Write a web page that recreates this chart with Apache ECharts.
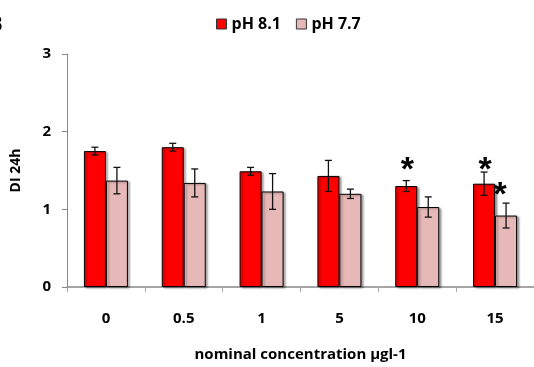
<!DOCTYPE html>
<html>
<head>
<meta charset="utf-8">
<script src="https://cdn.jsdelivr.net/npm/echarts@6/dist/echarts.min.js"></script>
<style>
  html, body { margin: 0; padding: 0; background: #fff; }
  #chart { width: 534px; height: 367px; }
</style>
</head>
<body>
<div id="chart"></div>
<script>
// Concentrations (µg l-1) on the x axis
const categories = ['0', '0.5', '1', '5', '10', '15'];
const seriesNames = ['pH 8.1', 'pH 7.7'];

// Mean DI after 24 h and its error (±)
const ph81 = [1.75, 1.80, 1.49, 1.43, 1.30, 1.33];
const ph81Err = [0.05, 0.05, 0.05, 0.20, 0.07, 0.15];
const ph77 = [1.37, 1.34, 1.23, 1.20, 1.03, 0.92];
const ph77Err = [0.17, 0.18, 0.23, 0.06, 0.13, 0.16];

// Significance markers: category index, series index, height of the marker
const starCategory = [4, 5, 5];
const starSeriesIdx = [0, 0, 1];
const starLevel = [1.63, 1.63, 1.31];

const yTicks = [0, 1, 2, 3];

const font = '"Open Sans", Lato, sans-serif';
const colors = ['#ff0000', '#e6b8b7'];

const chart = echarts.init(document.getElementById('chart'));

const BAR_W = 22;

function errorSeries(values, errs, seriesIdx) {
  return {
    type: 'custom',
    name: seriesNames[seriesIdx] + ' err',
    z: 5,
    silent: true,
    data: values.map((v, i) => [i, v - errs[i], v + errs[i]]),
    renderItem: function (params, api) {
      const i = api.value(0);
      const lo = api.coord([i, api.value(1)]);
      const hi = api.coord([i, api.value(2)]);
      const x = lo[0] + (seriesIdx === 0 ? -BAR_W / 2 : BAR_W / 2);
      const cap = 3.5;
      const style = { stroke: '#111', lineWidth: 1.3, fill: null };
      return {
        type: 'group',
        children: [
          { type: 'line', shape: { x1: x, y1: lo[1], x2: x, y2: hi[1] }, style: style },
          { type: 'line', shape: { x1: x - cap, y1: hi[1], x2: x + cap, y2: hi[1] }, style: style },
          { type: 'line', shape: { x1: x - cap, y1: lo[1], x2: x + cap, y2: lo[1] }, style: style }
        ]
      };
    }
  };
}

const starSeries = {
  type: 'custom',
  name: 'significance',
  z: 6,
  silent: true,
  data: starCategory.map((ci, k) => [ci, starLevel[k], starSeriesIdx[k]]),
  renderItem: function (params, api) {
    const i = api.value(0);
    const p = api.coord([i, api.value(1)]);
    const si = api.value(2);
    // the pH 7.7 marker sits beside its error bar, slightly to the left
    const x = si === 0 ? p[0] - BAR_W / 2 + 1 : p[0] + BAR_W / 2 - 6;
    return {
      type: 'text',
      style: {
        text: '*',
        x: x, y: p[1] + 10,
        align: 'center',
        verticalAlign: 'middle',
        font: 'bold 34px "Liberation Sans", Arial, sans-serif',
        fill: '#000'
      }
    };
  }
};

const barShadow = {
  shadowColor: 'rgba(0,0,0,0.35)',
  shadowBlur: 2,
  shadowOffsetX: 2,
  shadowOffsetY: 1
};

chart.setOption({
  animation: false,
  textStyle: { fontFamily: font },
  graphic: [{
    type: 'text',
    x: -12, y: 14,
    style: { text: 'B', font: 'bold 22px ' + font, fill: '#000' }
  }],
  legend: {
    data: seriesNames,
    top: 11,
    left: 211,
    itemWidth: 10,
    itemHeight: 10,
    itemGap: 15,
    icon: 'rect',
    itemStyle: { borderColor: '#333', borderWidth: 1 },
    textStyle: { fontFamily: font, fontSize: 16, fontWeight: 'bold', color: '#000' }
  },
  grid: { left: 67, top: 54, width: 468, bottom: 80 },
  xAxis: {
    type: 'category',
    data: categories,
    boundaryGap: true,
    axisLine: { lineStyle: { color: '#888', width: 1.5 } },
    axisTick: { show: true, length: 5, lineStyle: { color: '#aaa' } },
    axisLabel: { margin: 24, fontSize: 15, fontWeight: 'bold', color: '#000', fontFamily: font },
    name: 'nominal concentration µgl-1',
    nameLocation: 'middle',
    nameGap: 60,
    nameTextStyle: { fontSize: 15, fontWeight: 'bold', color: '#000', fontFamily: font }
  },
  yAxis: {
    type: 'value',
    min: yTicks[0],
    max: yTicks[yTicks.length - 1],
    interval: 1,
    splitLine: { show: false },
    axisLine: { show: true, lineStyle: { color: '#888', width: 1 } },
    axisTick: { show: true, length: 5, inside: false, lineStyle: { color: '#888' } },
    axisLabel: { margin: 16, fontSize: 15, fontWeight: 'bold', color: '#000', fontFamily: font },
    name: 'DI 24h',
    nameLocation: 'middle',
    nameGap: 44,
    nameTextStyle: { fontSize: 14, fontWeight: 'bold', color: '#000', fontFamily: font }
  },
  series: [
    {
      name: seriesNames[0],
      type: 'bar',
      data: ph81,
      barWidth: BAR_W,
      barGap: '0%',
      itemStyle: Object.assign({ color: colors[0], borderColor: '#000', borderWidth: 1 }, barShadow)
    },
    {
      name: seriesNames[1],
      type: 'bar',
      data: ph77,
      barWidth: BAR_W,
      barGap: '0%',
      itemStyle: Object.assign({ color: colors[1], borderColor: '#000', borderWidth: 1 }, barShadow)
    },
    errorSeries(ph81, ph81Err, 0),
    errorSeries(ph77, ph77Err, 1),
    starSeries
  ]
});
</script>
</body>
</html>
